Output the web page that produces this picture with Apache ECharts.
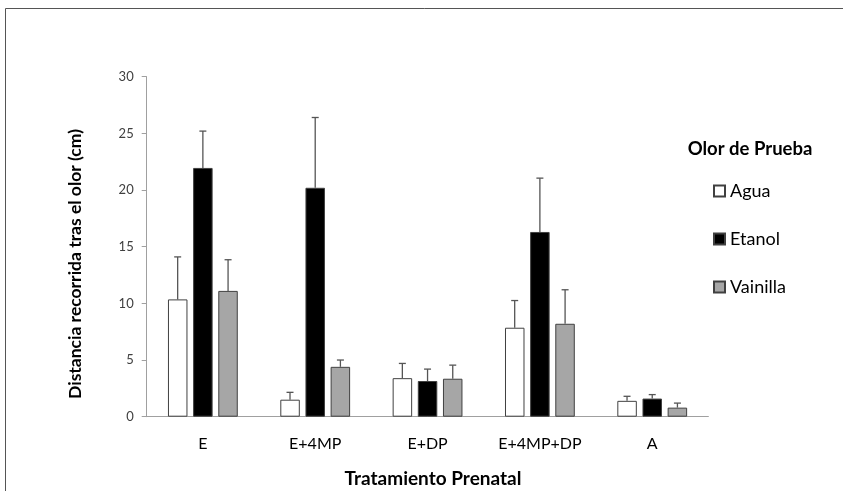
<!DOCTYPE html>
<html lang="es">
<head>
    <meta charset="UTF-8">
    <title>Distancia recorrida tras el olor</title>
    <script src="https://cdn.jsdelivr.net/npm/echarts@6/dist/echarts.min.js"></script>
</head>
<body style="margin:0;background:#fff;">
<div id="myChart" style="width:843px;height:491px;"></div>
<script type="text/javascript">
    // datos
    var categories = ['E', 'E+4MP', 'E+DP', 'E+4MP+DP', 'A'];
    var yTicks = [0, 5, 10, 15, 20, 25, 30];
    var agua = [10.35, 1.5, 3.4, 7.85, 1.4];
    var etanol = [21.95, 20.2, 3.15, 16.3, 1.6];
    var vainilla = [11.1, 4.4, 3.35, 8.2, 0.8];
    // error (solo hacia arriba)
    var aguaErr = [3.75, 0.65, 1.3, 2.4, 0.4];
    var etanolErr = [3.25, 6.2, 1.05, 4.75, 0.35];
    var vainillaErr = [2.75, 0.6, 1.2, 3.0, 0.4];

    var FONT = 'Lato';
    var BAR_W = 19.5;
    var STEP = 25.2;   // distancia entre centros de barras

    function errData(vals, errs) {
        var out = [];
        for (var i = 0; i < vals.length; i++) {
            out.push([i, vals[i], errs[i]]);
        }
        return out;
    }

    function errRender(offset) {
        return function (params, api) {
            var x = api.coord([api.value(0), 0])[0] + offset;
            var y1 = api.coord([api.value(0), api.value(1)])[1];
            var y2 = api.coord([api.value(0), api.value(1) + api.value(2)])[1];
            var st = {stroke: '#555555', lineWidth: 1.3};
            return {
                type: 'group',
                children: [
                    {type: 'line', shape: {x1: x, y1: y1, x2: x, y2: y2}, style: st},
                    {type: 'line', shape: {x1: x - 3.5, y1: y2, x2: x + 3.5, y2: y2}, style: st}
                ]
            };
        };
    }

    function barSeries(name, data, color) {
        return {
            name: name,
            type: 'bar',
            data: data,
            barWidth: BAR_W,
            barGap: '29%',
            itemStyle: {color: color, borderColor: '#404040', borderWidth: 1},
            emphasis: {disabled: true}
        };
    }

    function errSeries(data, errs, offset) {
        return {
            type: 'custom',
            data: errData(data, errs),
            renderItem: errRender(offset),
            z: 5,
            silent: true
        };
    }

    var myChart = echarts.init(document.getElementById('myChart'));
    var option = {
        animation: false,
        backgroundColor: '#ffffff',
        textStyle: {fontFamily: FONT},
        grid: {left: 146.7, right: 134.6, top: 76.7, bottom: 74.3, containLabel: false},
        legend: {
            data: ['Agua', 'Etanol', 'Vainilla'],
            orient: 'vertical',
            left: 713,
            top: 181,
            padding: 0,
            itemGap: 28,
            itemWidth: 11,
            itemHeight: 11,
            icon: 'rect',
            selectedMode: false,
            textStyle: {fontFamily: FONT, fontSize: 18, color: '#000', lineHeight: 20}
        },
        xAxis: {
            type: 'category',
            data: categories,
            axisLine: {lineStyle: {color: '#a0a0a0', width: 1}},
            axisTick: {show: false},
            axisLabel: {fontFamily: FONT, fontSize: 16, color: '#000', margin: 19}
        },
        yAxis: {
            type: 'value',
            min: yTicks[0],
            max: yTicks[yTicks.length - 1],
            interval: yTicks[1] - yTicks[0],
            splitLine: {show: false},
            axisLine: {show: true, lineStyle: {color: '#a0a0a0', width: 1}},
            axisTick: {show: true, length: 5, lineStyle: {color: '#a0a0a0'}},
            axisLabel: {fontFamily: FONT, fontSize: 13, color: '#404040', margin: 13}
        },
        graphic: [
            {
                type: 'rect',
                shape: {x: 5.5, y: 8.5, width: 900, height: 600},
                style: {fill: 'none', stroke: '#555555', lineWidth: 1},
                silent: true
            },
            {
                type: 'text',
                x: 75.5,
                y: 264,
                rotation: Math.PI / 2,
                style: {
                    text: 'Distancia recorrida tras el olor (cm)',
                    font: 'bold 17.5px ' + FONT,
                    fill: '#000',
                    align: 'center',
                    verticalAlign: 'middle'
                }
            },
            {
                type: 'text',
                x: 433,
                y: 479,
                style: {
                    text: 'Tratamiento Prenatal',
                    font: 'bold 19px ' + FONT,
                    fill: '#000',
                    align: 'center',
                    verticalAlign: 'middle'
                }
            },
            {
                type: 'text',
                x: 750,
                y: 149,
                style: {
                    text: 'Olor de Prueba',
                    font: 'bold 18.5px ' + FONT,
                    fill: '#000',
                    align: 'center',
                    verticalAlign: 'middle'
                }
            }
        ],
        series: [
            barSeries('Agua', agua, '#ffffff'),
            barSeries('Etanol', etanol, '#000000'),
            barSeries('Vainilla', vainilla, '#a6a6a6'),
            errSeries(agua, aguaErr, -STEP),
            errSeries(etanol, etanolErr, 0),
            errSeries(vainilla, vainillaErr, STEP)
        ]
    };
    myChart.setOption(option);
</script>
</body>
</html>
